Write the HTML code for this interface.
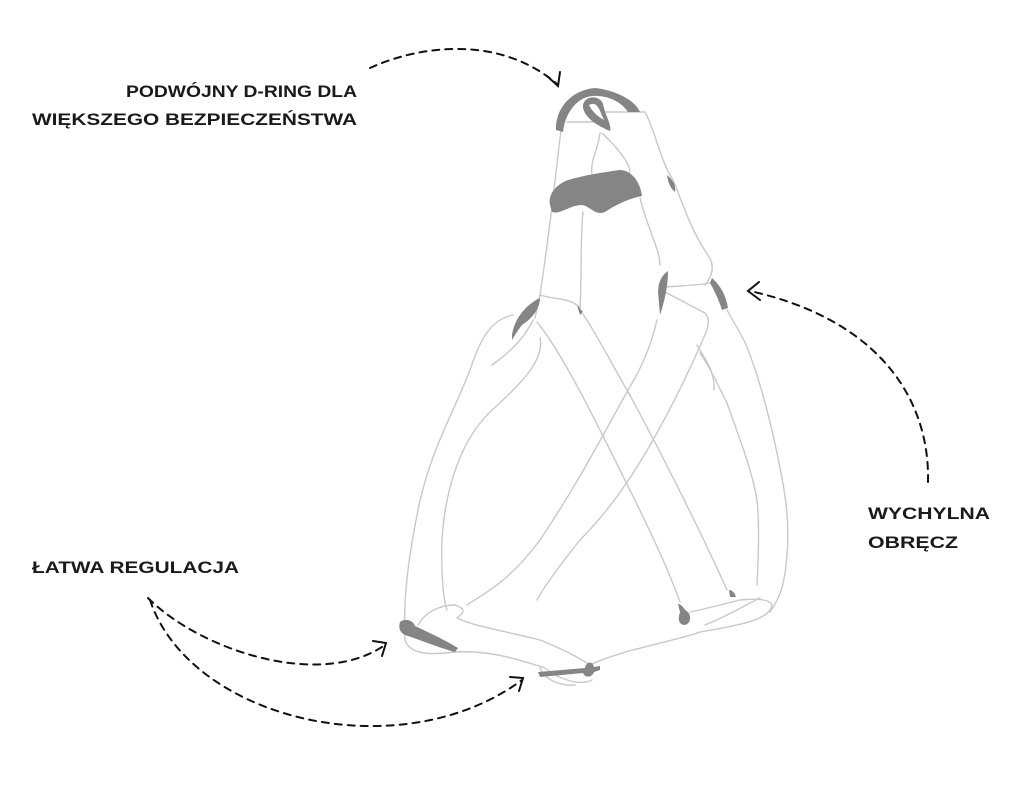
<!DOCTYPE html>
<html><head><meta charset="utf-8"><style>
html,body{margin:0;padding:0;background:#fff;}
svg{display:block;}
text{font-family:"Liberation Sans",sans-serif;font-weight:bold;font-size:17px;fill:#1a1a1a;}
</style></head><body>
<svg width="1024" height="786" viewBox="0 0 1024 786" xmlns="http://www.w3.org/2000/svg">
<text x="357" y="97" text-anchor="end" textLength="231" lengthAdjust="spacingAndGlyphs">PODWÓJNY D-RING DLA</text>
<text x="32" y="125" textLength="325" lengthAdjust="spacingAndGlyphs">WIĘKSZEGO BEZPIECZEŃSTWA</text>
<text x="868" y="519" textLength="122" lengthAdjust="spacingAndGlyphs">WYCHYLNA</text>
<text x="868" y="548" textLength="90" lengthAdjust="spacingAndGlyphs">OBRĘCZ</text>
<text x="32" y="573" textLength="207" lengthAdjust="spacingAndGlyphs">ŁATWA REGULACJA</text>

<g fill="none" stroke="#111" stroke-width="2" stroke-linecap="round">
<path d="M370 68 C 420 45, 500 35, 557 84" stroke-dasharray="7 6"/>
<path d="M547 76 L558 86 L560 72"/>
<path d="M928 482 C 930 400, 880 320, 750 291" stroke-dasharray="7 6"/>
<path d="M759 282 L748 291 L760 300"/>
<path d="M148 598 C 200 650, 320 690, 385 645" stroke-dasharray="7 6"/>
<path d="M373 641 L386 643 L382 656"/>
<path d="M150 600 C 190 720, 400 770, 522 680" stroke-dasharray="7 6"/>
<path d="M510 677 L523 678 L519 691"/>
</g>

<g fill="none" stroke="#c8c8c8" stroke-width="1.4" stroke-linejoin="round" stroke-linecap="round">
<path d="M562 122 C 556 170, 550 230, 540 295 L 535 318"/>
<path d="M583 212 C 580 240, 582 280, 580 308"/>
<path d="M540 295 C 555 300, 570 297, 580 308"/>
<path d="M567 122 L 600 122"/>
<path d="M605 112 L 645 112 C 655 130, 660 160, 673 180 C 680 195, 690 230, 708 255 C 715 265, 713 275, 705 285"/>
<path d="M602 133 C 620 150, 635 170, 628 175"/>
<path d="M600 133 C 598 150, 590 160, 592 175"/>
<path d="M640 198 C 648 230, 660 250, 660 265"/>
<path d="M665 287 C 680 286, 700 285, 710 283"/>
<path d="M665 292 L 705 313 C 710 318, 708 325, 707 330"/>
<path d="M513 315 C 490 320, 480 340, 470 370 C 455 410, 430 450, 418 510 C 408 560, 403 600, 405 640"/>
<path d="M540 338 C 545 360, 520 385, 492 410 C 460 440, 445 490, 442 540 C 441 570, 443 600, 447 610"/>
<path d="M533 320 C 528 330, 520 345, 492 365"/>
<path d="M537 322 C 560 350, 590 410, 610 450 C 640 510, 665 560, 680 602"/>
<path d="M583 314 C 600 340, 615 370, 627 390 C 660 450, 700 530, 727 590"/>
<path d="M657 320 C 650 350, 640 370, 627 392 C 600 440, 580 480, 540 540 C 510 580, 490 590, 467 605"/>
<path d="M707 330 C 690 370, 670 410, 653 440 C 625 490, 600 520, 580 540 C 560 565, 545 585, 537 600"/>
<path d="M697 345 C 705 360, 715 370, 714 390"/>
<path d="M727 310 C 735 325, 742 335, 747 347 C 760 380, 770 420, 777 453 C 785 490, 790 520, 787 555 C 785 580, 782 595, 770 612"/>
<path d="M700 353 C 712 370, 720 390, 727 403 C 740 440, 752 470, 757 500 C 760 530, 758 560, 757 585"/>
<path d="M405 640 C 410 655, 430 655, 455 652 C 490 650, 520 660, 545 668 C 560 680, 580 686, 592 680"/>
<path d="M418 625 C 425 612, 440 605, 455 605 C 470 610, 460 615, 457 618 C 470 625, 500 630, 540 640 C 560 648, 575 655, 590 665"/>
<path d="M590 665 C 620 650, 680 640, 700 632 C 740 625, 770 620, 772 605 C 770 600, 760 598, 740 600 C 720 605, 700 610, 690 612"/>
<path d="M705 625 C 730 615, 745 605, 760 598"/>
<path d="M540 668 C 545 680, 560 686, 575 685"/>
</g>

<g fill="#858585" stroke="none">
<path d="M556 130 C 555 110, 570 90, 595 88 C 615 90, 635 100, 640 112 L 628 112 C 620 100, 605 95, 592 96 C 575 98, 565 115, 563 132 Z"/>
<path d="M583 105 C 585 95, 600 95, 603 104 C 605 115, 612 125, 610 131 C 595 125, 582 115, 583 105 Z M589 105 C 592 112, 600 118, 604 120 C 600 112, 598 100, 589 105 Z"/>
<path d="M550 205 C 548 195, 555 185, 568 180 C 585 175, 605 172, 620 170 C 630 170, 640 180, 642 196 C 630 198, 615 205, 605 212 C 595 216, 590 206, 582 205 C 570 205, 560 215, 552 212 Z"/>
<path d="M667 175 C 673 180, 676 185, 675 192 C 670 188, 668 182, 667 175 Z"/>
<path d="M512 335 C 514 320, 525 305, 540 298 C 540 310, 530 320, 522 325 C 518 330, 515 335, 512 340 Z"/>
<path d="M658 292 C 658 282, 662 275, 668 271 C 668 285, 665 300, 660 315 Z"/>
<path d="M712 278 C 720 285, 726 295, 728 308 L 722 310 C 718 298, 714 290, 710 283 Z"/>
<path d="M577 305 L 580 315 L 583 312 Z"/>
<path d="M400 622 C 405 618, 413 620, 415 626 C 430 633, 445 640, 458 648 L 455 652 C 440 648, 420 640, 408 636 C 400 634, 398 628, 400 622 Z"/>
<path d="M538 672 L 585 668 C 586 662, 592 660, 594 667 L 600 666 L 600 670 L 594 672 C 592 678, 585 678, 583 673 L 540 677 Z"/>
<path d="M678 604 C 682 604, 684 610, 688 612 C 692 617, 690 625, 684 625 C 678 624, 678 618, 680 612 Z"/>
<path d="M729 590 C 733 590, 735 594, 736 597 L 730 597 Z"/>
</g>
</svg>
</body></html>
